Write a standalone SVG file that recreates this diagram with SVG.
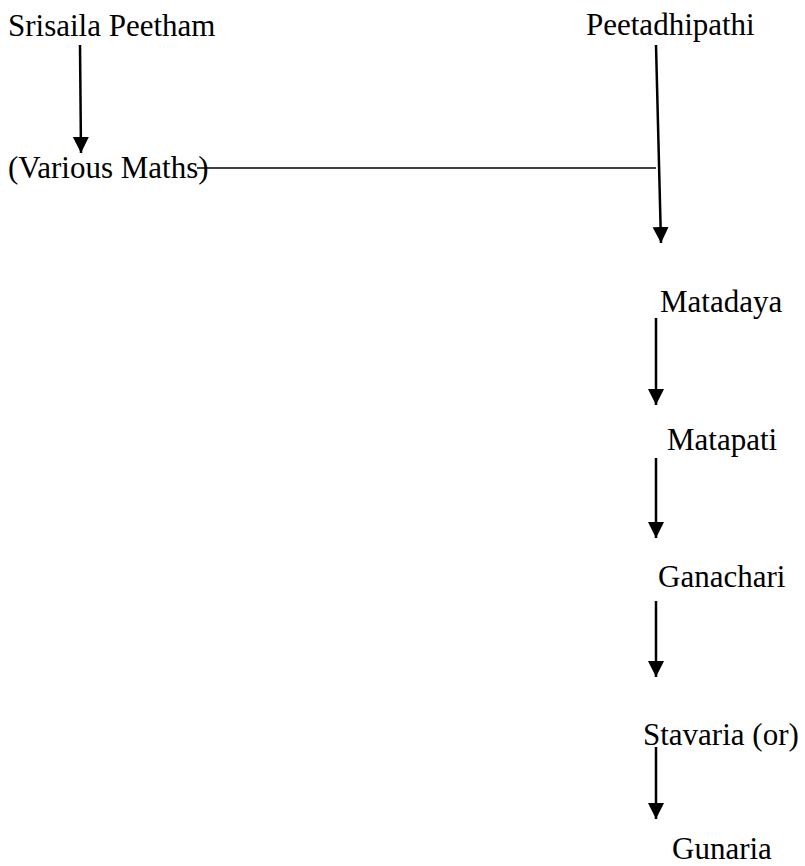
<svg xmlns="http://www.w3.org/2000/svg" width="805" height="866" viewBox="0 0 805 866">
<style>
text{font-family:"Liberation Serif","Times New Roman",serif;font-size:31px;fill:#000}
.c line{stroke:#000;stroke-width:2.5}
</style>
<defs>
<marker id="ah" markerUnits="userSpaceOnUse" markerWidth="18" markerHeight="18" refX="16" refY="8" orient="auto">
<path d="M0,0 L16,8 L0,16 Z" fill="#000"/>
</marker>
</defs>
<rect width="805" height="866" fill="#fff"/>
<g id="n1"><text x="8" y="36">Srisaila Peetham</text></g>
<g id="n2"><text x="586" y="35">Peetadhipathi</text></g>
<g id="n3"><text x="8" y="178">(Various Maths)</text></g>
<g id="n4"><text x="660" y="312">Matadaya</text></g>
<g id="n5"><text x="667" y="450">Matapati</text></g>
<g id="n6"><text x="658" y="587">Ganachari</text></g>
<g id="n7"><text x="643" y="745">Stavaria (or)</text></g>
<g id="n8"><text x="672" y="859">Gunaria</text></g>
<g class="c" id="connectors">
<line x1="80" y1="45" x2="81" y2="153" marker-end="url(#ah)"/>
<line x1="197" y1="168" x2="656" y2="168" style="stroke-width:1.5"/>
<line x1="656" y1="45" x2="661" y2="243" marker-end="url(#ah)"/>
<line x1="656" y1="318" x2="656" y2="405" marker-end="url(#ah)"/>
<line x1="656" y1="458" x2="656" y2="538" marker-end="url(#ah)"/>
<line x1="656" y1="601" x2="656" y2="677" marker-end="url(#ah)"/>
<line x1="656" y1="747" x2="656" y2="819" marker-end="url(#ah)"/>
</g>
</svg>
